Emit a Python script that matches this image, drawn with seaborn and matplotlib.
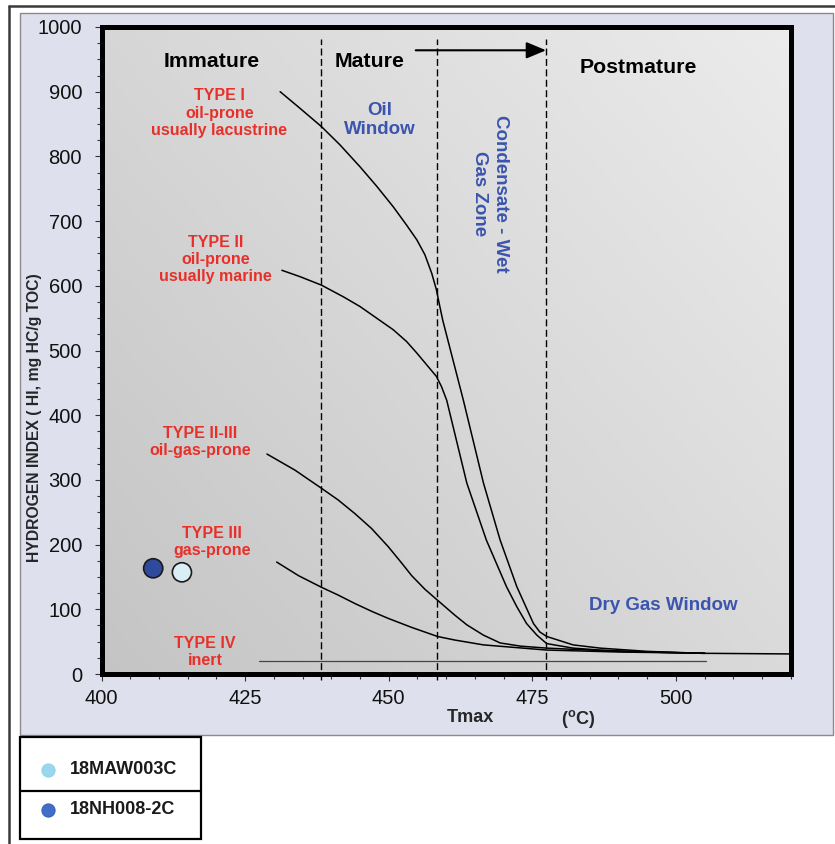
import numpy as np
import pandas as pd
import matplotlib
matplotlib.use("Agg")
import matplotlib.pyplot as plt
import seaborn as sns
from matplotlib.patches import Rectangle
from matplotlib.lines import Line2D
from matplotlib.ticker import MultipleLocator

# Kerogen maturation pathways (Tmax vs hydrogen index)
type1_tmax = [431.1, 434.6, 438.3, 441.5, 445.0, 447.9, 450.8, 453.1, 454.9, 456.3,
              457.5, 458.3, 458.9, 459.4, 463.0, 466.5, 469.4, 472.3,
              475.2, 476.3, 477.5, 482.1, 486.8, 495.0, 504.5, 520.0]
type1_hi = [900, 874, 846, 818, 784, 754, 722, 694, 671, 648,
            619, 594, 568, 547, 423, 295, 207, 135,
            78, 65, 58, 45, 40, 35, 32, 31]

type2_tmax = [431.4, 434.6, 438.3, 442.1, 445.0, 447.9, 450.8, 453.1, 454.9, 456.6,
              458.3, 459.2, 460.1, 463.6, 467.0, 470.5, 472.3, 474.0, 475.8,
              477.5, 482.1, 486.8, 495.0, 505.0]
type2_hi = [624, 614, 601, 583, 568, 550, 532, 514, 496, 478,
            460, 444, 423, 295, 207, 135, 104, 78, 60,
            47, 40, 37, 34, 32]

type23_tmax = [428.8, 433.7, 438.3, 441.2, 444.1, 447.0, 449.9, 452.3, 454.0, 456.3,
               458.5, 461.5, 463.6, 466.5, 469.4, 473.0, 477.5, 490.0, 505.0]
type23_hi = [340, 315, 287, 269, 248, 225, 197, 171, 152, 131,
             114, 91, 76, 60, 48, 43, 40, 35, 32]

type3_tmax = [430.5, 434.3, 438.3, 441.2, 444.1, 447.0, 449.9, 454.0, 458.5, 461.5,
              466.5, 477.5, 490.0, 505.0]
type3_hi = [173, 152, 134, 122, 109, 97, 86, 72, 58, 52.5,
            45, 37, 34, 32]

type4_tmax = [427.5, 505.3]
type4_hi = [20.5, 20.5]

# Maturity boundaries (Tmax, degC)
boundaries = [438.2, 458.4, 477.4]

# Samples
sample_names = ["18MAW003C", "18NH008-2C"]
sample_tmax = [414.0, 409.0]
sample_hi = [157.2, 163.4]
sample_colors = ["#d9eff5", "#2f4a9c"]
legend_colors = ["#8fd3ec", "#2f5dbf"]

sns.set_style("ticks")
plt.rcParams["font.family"] = ["Liberation Sans", "DejaVu Sans"]
plt.rcParams["mathtext.fontset"] = "custom"
plt.rcParams["mathtext.rm"] = "Liberation Sans"
plt.rcParams["mathtext.bf"] = "Liberation Sans:bold"

W, H = 835, 844
fig = plt.figure(figsize=(W / 100, H / 100), dpi=100)
fig.patch.set_facecolor("white")

def fx(px):
    return px / W

def fy(py):
    return 1 - py / H

# page frame and lavender panel
fig.add_artist(Rectangle((fx(20), fy(735)), fx(813), (735 - 13) / H,
                         transform=fig.transFigure, fc="#dfe0ed", ec="#8a8a8a", lw=1.0, zorder=0))
fig.add_artist(Line2D([fx(9), fx(9)], [0, fy(5.5)], transform=fig.transFigure,
                      color="#3a3a3a", lw=1.8, zorder=1))
fig.add_artist(Line2D([fx(9), 1], [fy(5.5), fy(5.5)], transform=fig.transFigure,
                      color="#3a3a3a", lw=1.8, zorder=1))

ax = fig.add_axes([fx(101.5), fy(674), (790.8 - 101.5) / W, (674 - 27) / H])
ax.set_xlim(400, 520)
ax.set_ylim(0, 1000)

# diagonal grey gradient background
n = 300
u = np.linspace(0, 1, n)
gx, gy = np.meshgrid(u, u)
t = (gx * 0.55 + gy * 0.45)
lo, hi = 0.77, 0.925
val = lo + (hi - lo) * t
img = np.dstack([val, val, val])
ax.imshow(img, extent=[400, 520, 0, 1000], origin="lower", aspect="auto", zorder=0,
          interpolation="bilinear")

curve_kw = dict(color="black", linewidth=1.1, sort=False, estimator=None, legend=False, ax=ax)
for xs, ys in [(type1_tmax, type1_hi), (type2_tmax, type2_hi),
               (type23_tmax, type23_hi), (type3_tmax, type3_hi)]:
    sns.lineplot(x=xs, y=ys, zorder=3, **curve_kw)
sns.lineplot(x=type4_tmax, y=type4_hi, color="#444444", linewidth=0.9, sort=False,
             estimator=None, legend=False, ax=ax, zorder=3)

for b in boundaries:
    ax.plot([b, b], [-9, 982], color="black", lw=1.0, ls=(0, (5, 2.5)), zorder=2,
            clip_on=False)

# maturity arrow
ax.annotate("", xy=(477.4, 964), xytext=(454.7, 964),
            arrowprops=dict(arrowstyle="-|>,head_length=1.2,head_width=0.5",
                            color="black", lw=1.5, shrinkA=0, shrinkB=0), zorder=4)

df = pd.DataFrame({"Tmax": sample_tmax, "HI": sample_hi, "Sample": sample_names})
sns.scatterplot(data=df, x="Tmax", y="HI", hue="Sample", palette=sample_colors,
                s=190, edgecolor="#1a1a1a", linewidth=1.2, legend=False, ax=ax, zorder=5)

ax.set_xlabel("")
ax.set_ylabel("")

for s in ax.spines.values():
    s.set_linewidth(3.6)
    s.set_color("black")
    s.set_zorder(6)

ax.xaxis.set_major_locator(MultipleLocator(25))
ax.xaxis.set_minor_locator(MultipleLocator(5))
ax.yaxis.set_major_locator(MultipleLocator(100))
ax.yaxis.set_minor_locator(MultipleLocator(25))
ax.set_xticks([400, 425, 450, 475, 500])
ax.tick_params(which="major", length=5, width=0.8, color="#333333", labelsize=14.5,
               labelcolor="#111111")
ax.tick_params(which="minor", length=3.5, width=0.8, color="#333333")
ax.tick_params(axis="y", which="major", pad=9)
ax.tick_params(axis="x", which="major", pad=6)

red = "#e8302a"
blue = "#3b55ae"
head_kw = dict(ha="center", va="center", fontsize=15.3, fontweight="bold", color="black")
ax.text(419.2, 946, "Immature", **head_kw)
ax.text(446.7, 946, "Mature", **head_kw)
ax.text(493.5, 938, "Postmature", **head_kw)

red_kw = dict(ha="center", va="center", fontsize=11.5, fontweight="bold", color=red,
              linespacing=1.18, multialignment="center")
ax.text(420.5, 867, "TYPE I\noil-prone\nusually lacustrine", **red_kw)
ax.text(419.9, 641, "TYPE II\noil-prone\nusually marine", **red_kw)
ax.text(417.1, 359, "TYPE II-III\noil-gas-prone", **red_kw)
ax.text(419.2, 204.5, "TYPE III\ngas-prone", **red_kw)
ax.text(418.0, 34.5, "TYPE IV\ninert", **red_kw)

blue_kw = dict(ha="center", va="center", fontsize=13.5, fontweight="bold", color=blue,
               multialignment="center")
ax.text(448.5, 856, "Oil\nWindow", linespacing=1.18, **blue_kw)
ax.text(467.6, 742, "Condensate - Wet\nGas Zone", rotation=-90, linespacing=1.28, **blue_kw)
ax.text(497.8, 106.6, "Dry Gas Window", **blue_kw)

# axis titles
fig.text(fx(34.5), fy(417.5), "HYDROGEN INDEX ( HI, mg HC/g TOC)", rotation=90,
         ha="center", va="center", fontsize=11.3, fontweight="bold")
fig.text(fx(470.3), fy(718), "Tmax", ha="center", va="center", fontsize=13, fontweight="bold")
fig.text(fx(578.5), fy(719), r"$\mathbf{(^{o}C)}$", ha="center", va="center", fontsize=13)

# sample key
fig.add_artist(Rectangle((fx(20), fy(839)), fx(181), (839 - 737) / H,
                         transform=fig.transFigure, fc="white", ec="black", lw=1.6, zorder=2))
fig.add_artist(Line2D([fx(20), fx(201)], [fy(791), fy(791)], transform=fig.transFigure,
                      color="black", lw=1.6, zorder=3))
for name, col, py in zip(sample_names, legend_colors, [770, 810]):
    fig.add_artist(Line2D([fx(48.3)], [fy(py)], transform=fig.transFigure, marker="o",
                          ms=9.5, mfc=col, mec=col, mew=0.8, alpha=0.9, ls="none", zorder=4))
    fig.text(fx(70), fy(py), name, ha="left", va="center", fontsize=13, fontweight="bold",
             color="#1a1a1a", zorder=4)

fig.savefig("out.png", dpi=100)
